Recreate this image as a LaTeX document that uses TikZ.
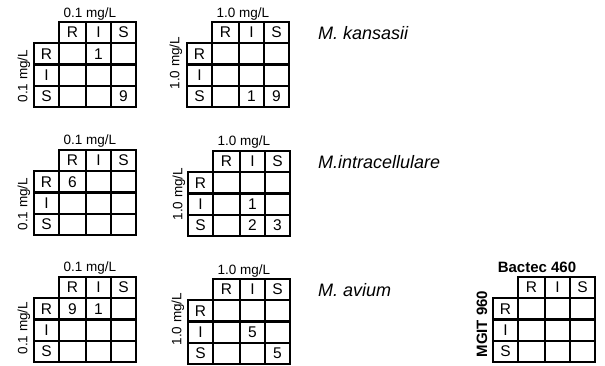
\documentclass[tikz,border=0pt]{standalone}
\usepackage{fontspec}
\setmainfont{Liberation Sans}

\tikzset{
  gridline/.style={line width=2.6pt, line join=miter},
  cell/.style={font=\fontsize{15.5}{15.5}\selectfont, inner sep=0pt},
  conc/.style={font=\fontsize{13.5}{13.5}\selectfont, inner sep=0pt},
  method/.style={font=\fontsize{15}{15}\selectfont\bfseries, inner sep=0pt},
  species/.style={font=\fontsize{18}{18}\selectfont\itshape, inner sep=0pt, anchor=west}
}

% grid of one R/I/S table, #1 = prefix of the node names
\newcommand{\sirgrid}[1]{%
  \draw[gridline] (25,0) rectangle (102,85) (0,21) rectangle (25,85);
  \foreach \y in {21,42.5,64} \draw[gridline] (0,\y) -- (102,\y);
  \foreach \x in {52,77} \draw[gridline] (\x,0) -- (\x,85);
  \node[cell] (#1hR) at (38.5,10.5) {R};
  \node[cell] (#1hI) at (64.5,10.5) {I};
  \node[cell] (#1hS) at (89.5,10.5) {S};
  \node[cell] (#1vR) at (12.5,32) {R};
  \node[cell] (#1vI) at (12.5,53.5) {I};
  \node[cell] (#1vS) at (12.5,74.5) {S};
}

\begin{document}
\begin{tikzpicture}[x=1pt,y=-1pt]
  \useasboundingbox (0,0) rectangle (605,366);

  % M. kansasii
  \begin{scope}[shift={(34,22)}]
    \sirgrid{ka}
    \node[conc] (kaT) at (56,-8) {0.1 mg/L};
    \node[conc,rotate=90] (kaL) at (-10,54) {0.1 mg/L};
    \node[cell] (kaRI) at (64.5,32) {1};
    \node[cell] (kaSS) at (89.5,74.5) {9};
  \end{scope}
  \begin{scope}[shift={(187,22)}]
    \sirgrid{kb}
    \node[conc] (kbT) at (56,-8) {1.0 mg/L};
    \node[conc,rotate=90] (kbL) at (-11,41) {1.0 mg/L};
    \node[cell] (kbSI) at (64.5,74.5) {1};
    \node[cell] (kbSS) at (89.5,74.5) {9};
  \end{scope}
  \node[species] (kans) at (318,33) {M. kansasii};

  % M. intracellulare
  \begin{scope}[shift={(34,150)}]
    \sirgrid{ia}
    \node[conc] (iaT) at (56,-9) {0.1 mg/L};
    \node[conc,rotate=90] (iaL) at (-10,54) {0.1 mg/L};
    \node[cell] (iaRR) at (38.5,32) {6};
  \end{scope}
  \begin{scope}[shift={(188,151)}]
    \sirgrid{ib}
    \node[conc] (ibT) at (56,-9) {1.0 mg/L};
    \node[conc,rotate=90] (ibL) at (-9,43) {1.0 mg/L};
    \node[cell] (ibII) at (64.5,53.5) {1};
    \node[cell] (ibSI) at (64.5,74.5) {2};
    \node[cell] (ibSS) at (89.5,74.5) {3};
  \end{scope}
  \node[species] (intra) at (318,162) {M.intracellulare};

  % M. avium
  \begin{scope}[shift={(34,277)}]
    \sirgrid{aa}
    \node[conc] (aaT) at (56,-9) {0.1 mg/L};
    \node[conc,rotate=90] (aaL) at (-10,51) {0.1 mg/L};
    \node[cell] (aaRR) at (38.5,32) {9};
    \node[cell] (aaRI) at (64.5,32) {1};
  \end{scope}
  \begin{scope}[shift={(188,279)}]
    \sirgrid{ab}
    \node[conc] (abT) at (56,-8) {1.0 mg/L};
    \node[conc,rotate=90] (abL) at (-10,40) {1.0 mg/L};
    \node[cell] (abII) at (64.5,53.5) {5};
    \node[cell] (abSS) at (89.5,74.5) {5};
  \end{scope}
  \node[species] (avium) at (318,290) {M. avium};

  % legend
  \begin{scope}[shift={(493,277)}]
    \sirgrid{lg}
    \node[method] (bactec) at (44,-10) {Bactec 460};
    \node[method,rotate=90] (mgit) at (-11,47) {MGIT 960};
  \end{scope}
\end{tikzpicture}
\end{document}
